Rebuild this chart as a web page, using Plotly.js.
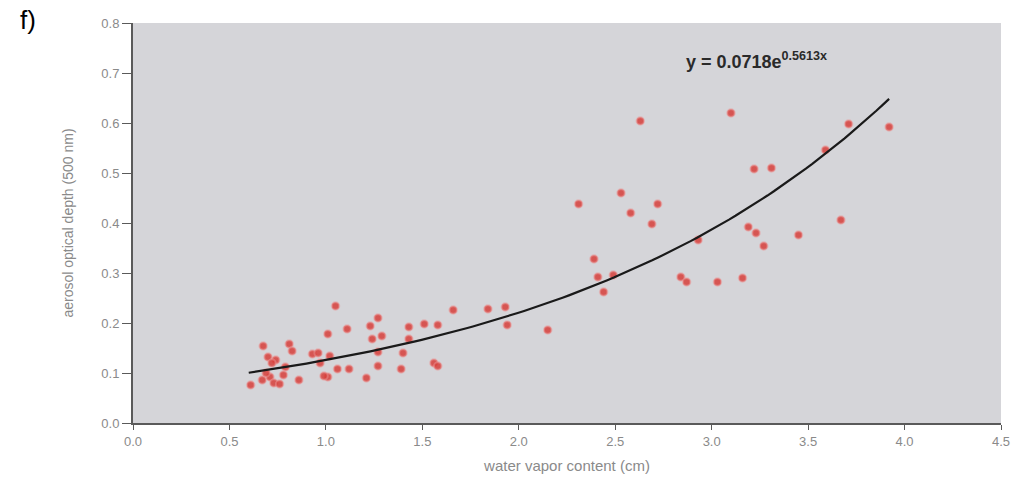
<!DOCTYPE html>
<html>
<head>
<meta charset="utf-8">
<script src="https://cdn.plot.ly/plotly-3.0.1.min.js"></script>
<style>
  html, body { margin: 0; padding: 0; background: #ffffff; }
  #chart { width: 1011px; height: 482px; }
</style>
</head>
<body>
<div id="chart"></div>
<script>
// Water vapor content (cm)
const waterVapor = [
  2.63, 3.10, 3.71, 3.92, 3.59, 3.22, 3.31, 2.53, 2.31, 2.72,
  2.58, 2.69, 2.93, 3.67, 3.19, 3.23, 3.45, 3.27, 2.39, 2.41,
  2.49, 2.44, 2.84, 2.87, 3.03, 3.16, 1.84, 1.93, 1.94, 2.15,
  1.05, 1.27, 1.01, 1.11, 1.23, 1.24, 1.29, 1.43, 1.51, 1.58,
  1.43, 1.66, 0.675, 0.81, 0.825, 0.70, 0.74, 0.93, 0.96, 1.02,
  1.27, 1.40, 0.79, 0.97, 1.06, 1.12, 1.27, 1.39, 1.56, 1.01,
  1.21, 0.86, 0.61, 0.67, 0.71, 0.73, 0.76, 0.99, 1.58, 0.69,
  0.72, 0.78
];
// Aerosol optical depth (500 nm)
const aerosolDepth = [
  0.604, 0.620, 0.598, 0.592, 0.546, 0.508, 0.510, 0.460, 0.438, 0.438,
  0.420, 0.398, 0.366, 0.406, 0.392, 0.380, 0.376, 0.354, 0.328, 0.292,
  0.296, 0.262, 0.292, 0.282, 0.282, 0.290, 0.228, 0.232, 0.196, 0.186,
  0.234, 0.210, 0.178, 0.188, 0.194, 0.168, 0.174, 0.192, 0.198, 0.196,
  0.168, 0.226, 0.154, 0.158, 0.144, 0.132, 0.126, 0.138, 0.140, 0.134,
  0.142, 0.140, 0.112, 0.120, 0.108, 0.108, 0.114, 0.108, 0.120, 0.092,
  0.090, 0.086, 0.076, 0.086, 0.092, 0.080, 0.078, 0.094, 0.114, 0.100,
  0.120, 0.096
];
// Exponential trendline as printed on the chart: y = 0.0718 e^(0.5613 x)
const trendA = 0.0718;
const trendK = 0.5613;
const trendXStart = 0.6;
const trendXEnd = 3.92;

const xTickVals = [0, 0.5, 1, 1.5, 2, 2.5, 3, 3.5, 4, 4.5];
const xTickText = ["0.0", "0.5", "1.0", "1.5", "2.0", "2.5", "3.0", "3.5", "4.0", "4.5"];
const yTickVals = [0, 0.1, 0.2, 0.3, 0.4, 0.5, 0.6, 0.7, 0.8];
const yTickText = ["0.0", "0.1", "0.2", "0.3", "0.4", "0.5", "0.6", "0.7", "0.8"];

const trendX = [];
const trendY = [];
const nSteps = 100;
for (let i = 0; i <= nSteps; i++) {
  const x = trendXStart + (trendXEnd - trendXStart) * i / nSteps;
  trendX.push(x);
  trendY.push(trendA * Math.exp(trendK * x));
}

const traces = [
  {
    x: waterVapor, y: aerosolDepth, type: 'scatter', mode: 'markers',
    marker: { color: 'rgba(214,62,58,0.85)', size: 7.5,
              line: { color: 'rgba(235,150,150,0.5)', width: 2 } },
    hoverinfo: 'x+y', showlegend: false
  },
  {
    x: trendX, y: trendY, type: 'scatter', mode: 'lines',
    line: { color: '#1a1a1a', width: 2.2 },
    hoverinfo: 'skip', showlegend: false
  }
];

const tickFont = { family: 'Liberation Sans, Arial, sans-serif', size: 13, color: '#8a8a8a' };

const layout = {
  width: 1011, height: 482,
  margin: { l: 133, r: 10, t: 23, b: 59 },
  paper_bgcolor: '#ffffff',
  plot_bgcolor: '#d5d5d9',
  showlegend: false,
  xaxis: {
    range: [0, 4.5], tickvals: xTickVals, ticktext: xTickText,
    showgrid: false, zeroline: false,
    showline: true, linecolor: '#5a5a5a', linewidth: 2,
    ticks: 'outside', ticklen: 5, tickcolor: '#5a5a5a', tickwidth: 1,
    tickfont: tickFont,
    title: { text: 'water vapor content (cm)', standoff: 13,
             font: { family: 'Liberation Sans, Arial, sans-serif', size: 15, color: '#8a8a8a' } }
  },
  yaxis: {
    range: [0, 0.8], tickvals: yTickVals, ticktext: yTickText,
    showgrid: false, zeroline: false,
    showline: true, linecolor: '#5a5a5a', linewidth: 2,
    ticks: 'outside', ticklen: 9, tickcolor: '#5a5a5a', tickwidth: 1,
    tickfont: tickFont,
    title: { text: 'aerosol optical depth (500 nm)', standoff: 24,
             font: { family: 'Liberation Sans, Arial, sans-serif', size: 14, color: '#8a8a8a' } }
  },
  annotations: [
    {
      text: 'f)', xref: 'paper', yref: 'paper', x: -0.132, y: 1.05,
      xanchor: 'left', yanchor: 'top', showarrow: false,
      font: { family: 'Liberation Sans, Arial, sans-serif', size: 26, color: '#000000' }
    },
    {
      text: '<b>y = 0.0718e<sup>0.5613x</sup></b>', xref: 'paper', yref: 'paper',
      x: 0.635, y: 0.905, xanchor: 'left', yanchor: 'middle', showarrow: false,
      font: { family: 'Liberation Sans, Arial, sans-serif', size: 18, color: '#2a2a2a' }
    }
  ]
};

Plotly.newPlot('chart', traces, layout, { displayModeBar: false, staticPlot: true });
</script>
</body>
</html>
